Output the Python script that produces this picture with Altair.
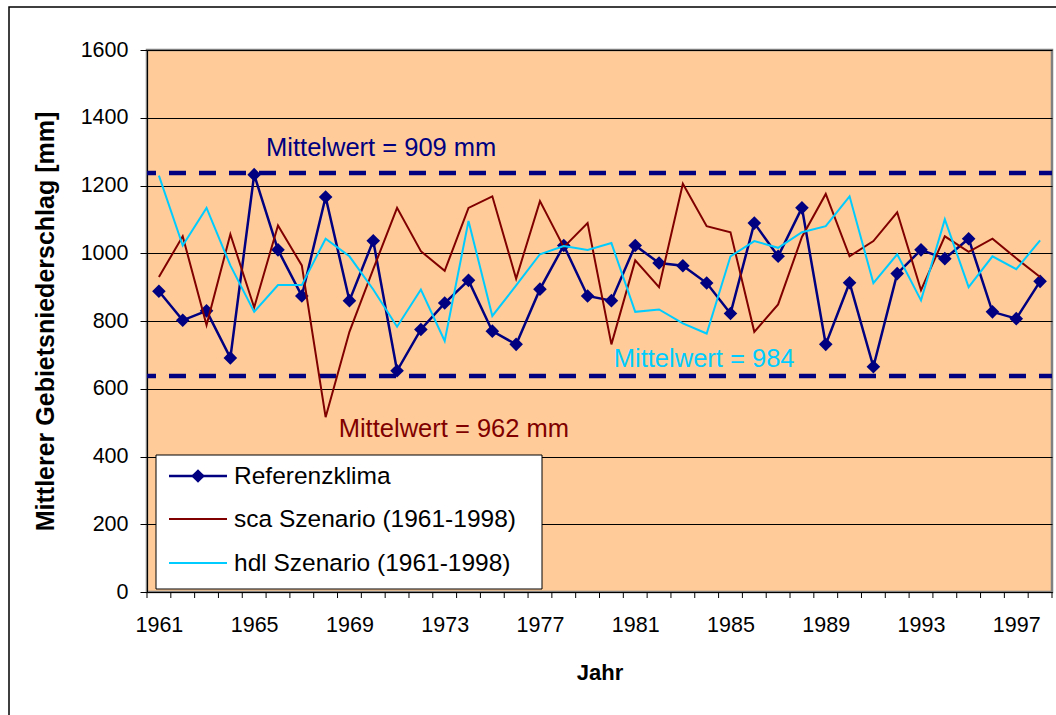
import altair as alt
import pandas as pd

# ---------------- data ----------------
years = list(range(1961, 1999))
referenz = [888, 802, 830, 691, 1232, 1010, 874, 1166, 860, 1037,
            653, 775, 853, 920, 770, 731, 894, 1023, 874, 860,
            1023, 971, 963, 912, 822, 1089, 991, 1134, 731, 913,
            665, 940, 1010, 984, 1043, 827, 807, 917]
sca = [930, 1050, 788, 1056, 840, 1082, 964, 516, 768, 953,
       1134, 1006, 948, 1134, 1168, 925, 1154, 1018, 1089, 731,
       979, 900, 1205, 1080, 1062, 768, 849, 1048, 1175, 991,
       1036, 1121, 891, 1050, 1004, 1043, 985, 930]
hdl = [1229, 1023, 1134, 964, 827, 906, 906, 1043, 991, 893,
       783, 893, 741, 1095, 815, 905, 997, 1021, 1010, 1030,
       827, 834, 793, 763, 991, 1036, 1016, 1062, 1080, 1168,
       912, 997, 861, 1100, 900, 991, 953, 1038]
series_names = ["Referenzklima", "sca Szenario (1961-1998)", "hdl Szenario (1961-1998)"]
series_colors = ["#000080", "#800000", "#00CCFF"]
y_ticks = [0, 200, 400, 600, 800, 1000, 1200, 1400, 1600]
x_labels = [1961, 1965, 1969, 1973, 1977, 1981, 1985, 1989, 1993, 1997]
band_values = [1237, 638]
ann_text = ["Mittelwert = 909 mm", "Mittelwert = 962 mm", "Mittelwert = 984"]
ann_year = [1965.5, 1968.55, 1980.1]
ann_value = [1288, 459, 665]
ann_color = ["#000080", "#800000", "#00CCFF"]

# ---------------- layout ----------------
W, H = 905, 542
FONT = "Liberation Sans"

rows = []
for name, vals in zip(series_names, [referenz, sca, hdl]):
    for yr, v in zip(years, vals):
        rows.append({"Jahr": yr, "Wert": v, "Reihe": name})
df = pd.DataFrame(rows)

xs = alt.Scale(domain=[years[0] - 0.5, years[-1] + 0.5], nice=False, zero=False)
ys = alt.Scale(domain=[0, 1600], nice=False)

x_axis = alt.Axis(values=x_labels, format="d", ticks=False, grid=False,
                  domainColor="black", domainWidth=1,
                  labelFont=FONT, labelFontSize=21.5, labelColor="black",
                  labelPadding=22, labelFlush=False, labelOverlap=False,
                  title="Jahr", titleFont=FONT, titleFontSize=22, titleFontWeight="bold",
                  titleColor="black", titleX=W / 2, titleY=80, titleBaseline="middle")
y_axis = alt.Axis(values=y_ticks, format="d", tickSize=7, tickColor="black",
                  grid=True, gridColor="black", gridWidth=1,
                  domainColor="black", domainWidth=1,
                  labelFont=FONT, labelFontSize=21.5, labelColor="black", labelPadding=12,
                  title="Mittlerer Gebietsniederschlag [mm]", titleFont=FONT,
                  titleFontSize=25, titleFontWeight="bold", titleColor="black",
                  titleX=-102, titleY=H / 2, titleAlign="center", titleBaseline="middle",
                  titleAngle=270)

X = alt.X("Jahr:Q", scale=xs, axis=x_axis)
Y = alt.Y("Wert:Q", scale=ys, axis=y_axis)

# dashed mean-band lines
band = alt.Chart(pd.DataFrame({"Wert": band_values})).mark_rule(
    color="#000080", strokeWidth=4.5, strokeDash=[17, 13], strokeDashOffset=4
).encode(y=Y)

layers = [band]
widths = [2.5, 2, 2]
for name, col, sw in zip(series_names, series_colors, widths):
    layers.append(
        alt.Chart(df[df["Reihe"] == name]).mark_line(color=col, strokeWidth=sw).encode(x=X, y=Y)
    )
    if name == "Referenzklima":
        layers.append(
            alt.Chart(df[df["Reihe"] == name]).mark_point(
                shape="diamond", filled=True, size=185, color=col, opacity=1
            ).encode(x=X, y=Y)
        )

# category boundary ticks on x axis
tick_df = pd.DataFrame({"Jahr": [y - 0.5 for y in years] + [years[-1] + 0.5]})
ticks = alt.Chart(tick_df).mark_rule(color="black", strokeWidth=1).encode(
    x=X, y=alt.value(H), y2=alt.value(H + 6))
layers.append(ticks)

# annotations
ann_df = pd.DataFrame({"Jahr": ann_year, "Wert": ann_value, "t": ann_text, "c": ann_color})
ann = alt.Chart(ann_df).mark_text(align="left", baseline="alphabetic", font=FONT,
                                  fontSize=25.5).encode(
    x=X, y=Y, text="t:N", color=alt.Color("c:N", scale=None))
layers.append(ann)

# manual legend
one = pd.DataFrame({"k": [0]})
LX0, LY0, LX1, LY1 = 9, 405, 395, 539
layers.append(alt.Chart(one).mark_rect(fill="white", stroke="black", strokeWidth=1).encode(
    x=alt.value(LX0), x2=alt.value(LX1), y=alt.value(LY0), y2=alt.value(LY1)))
row_y = [426, 469, 513]
for name, col, ry in zip(series_names, series_colors, row_y):
    layers.append(alt.Chart(one).mark_rule(color=col, strokeWidth=2.5 if name == "Referenzklima" else 2).encode(
        x=alt.value(22), x2=alt.value(80), y=alt.value(ry)))
    layers.append(alt.Chart(one).mark_text(align="left", baseline="middle", font=FONT,
                                           fontSize=24.5, color="black", text=name).encode(
        x=alt.value(87), y=alt.value(ry + 1)))
layers.append(alt.Chart(one).mark_point(shape="diamond", filled=True, size=185,
                                        color=series_colors[0], opacity=1).encode(
    x=alt.value(51), y=alt.value(row_y[0])))

# outer chart border
layers.append(alt.Chart(one).mark_rect(fillOpacity=0, stroke="black", strokeWidth=1.5).encode(
    x=alt.value(9 - 147), x2=alt.value(1062 - 147), y=alt.value(7 - 50), y2=alt.value(722 - 50)))

chart = alt.layer(*layers).properties(
    width=W, height=H,
    autosize=alt.AutoSizeParams(type="none"),
    padding={"left": 147, "top": 50, "right": 4, "bottom": 123},
).configure(background="white").configure_view(
    fill="#FFCC99", stroke="#808080", strokeWidth=2.5
)

chart.save("out.html", embed_options={"renderer": "svg", "actions": False})
